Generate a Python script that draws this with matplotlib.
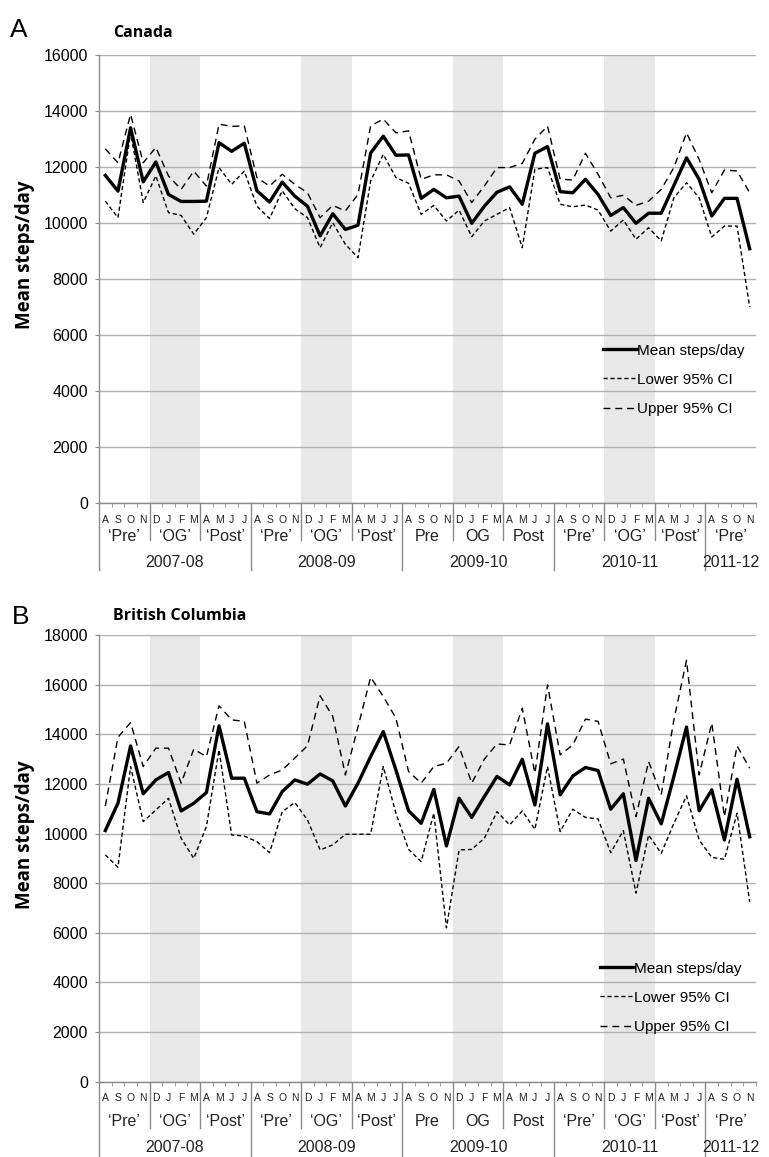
import numpy as np
import matplotlib
matplotlib.use("Agg")
import matplotlib.pyplot as plt
from matplotlib.transforms import offset_copy

plt.rcParams["font.family"] = "Liberation Sans"

# categorias del eje x
years = ["2007-08", "2008-09", "2009-10", "2010-11", "2011-12"]
phases = [["‘Pre’", "‘OG’", "‘Post’"],
          ["‘Pre’", "‘OG’", "‘Post’"],
          ["Pre", "OG", "Post"],
          ["‘Pre’", "‘OG’", "‘Post’"],
          ["‘Pre’"]]
phase_months = [["A", "S", "O", "N"], ["D", "J", "F", "M"], ["A", "M", "J", "J"]]

# Canada (Aug 2007 - Nov 2011)
can_mean = [11700, 11140, 13400, 11470, 12180, 11020, 10770, 10770, 10780, 12870, 12560, 12850,
            11150, 10750, 11460, 10960, 10600, 9540, 10330, 9770, 9920, 12500, 13100, 12420,
            12430, 10880, 11200, 10900, 10960, 9990, 10600, 11100, 11290, 10670, 12490, 12730,
            11120, 11080, 11560, 11020, 10270, 10550, 9990, 10350, 10350, 11340, 12330, 11560,
            10250, 10880, 10880, 9080]
can_lower = [10780, 10190, 13220, 10730, 11680, 10370, 10270, 9600, 10190, 11980, 11380, 11850,
             10600, 10160, 11150, 10510, 10190, 9120, 10010, 9240, 8760, 11500, 12450, 11620,
             11420, 10310, 10630, 10070, 10460, 9510, 10070, 10310, 10550, 9120, 11920, 11980,
             10670, 10580, 10640, 10460, 9710, 10110, 9420, 9830, 9360, 10900, 11440, 10900,
             9500, 9890, 9890, 7000]
can_upper = [12650, 12150, 13880, 12150, 12700, 11680, 11200, 11850, 11320, 13530, 13450, 13470,
             11620, 11320, 11740, 11380, 11080, 10190, 10630, 10430, 11020, 13470, 13710, 13220,
             13290, 11560, 11720, 11720, 11500, 10730, 11320, 11980, 11980, 12130, 12990, 13460,
             11560, 11540, 12490, 11740, 10900, 10990, 10630, 10780, 11200, 11980, 13220, 12270,
             11080, 11890, 11860, 11080]

# British Columbia
bc_mean = [10120, 11220, 13530, 11600, 12160, 12460, 10910, 11220, 11650, 14340, 12230, 12230,
           10880, 10790, 11690, 12160, 11990, 12400, 12120, 11110, 12030, 13100, 14110, 12560,
           10920, 10410, 11780, 9500, 11420, 10650, 11490, 12300, 11960, 12990, 11150, 14420,
           11560, 12320, 12660, 12540, 10980, 11600, 8910, 11420, 10390, 12300, 14290, 10920,
           11760, 9740, 12190, 9870]
bc_lower = [9140, 8640, 12700, 10480, 10950, 11420, 9810, 9000, 10280, 13370, 9940, 9900,
            9670, 9230, 10880, 11250, 10550, 9340, 9540, 9970, 9970, 9970, 12700, 10820,
            9360, 8870, 10820, 6200, 9340, 9360, 9810, 10880, 10350, 10910, 10170, 12700,
            10080, 10980, 10650, 10590, 9230, 10120, 7600, 9940, 9200, 10410, 11520, 9740,
            9040, 8960, 10820, 7250]
bc_upper = [11110, 13880, 14470, 12700, 13440, 13440, 12030, 13400, 13100, 15150, 14580, 14520,
            12030, 12360, 12560, 13040, 13540, 15550, 14720, 12360, 14300, 16300, 15520, 14650,
            12500, 12030, 12700, 12830, 13510, 12030, 13000, 13610, 13570, 15050, 12430, 15990,
            13170, 13570, 14610, 14520, 12810, 13000, 10680, 12900, 11560, 14580, 16980, 12360,
            14450, 10680, 13530, 12630]

# armar etiquetas por mes, fase y temporada
months = []
groups = []
year_spans = []
pos = 0
for yr, phs in zip(years, phases):
    ystart = pos
    for k, ph in enumerate(phs):
        ms = phase_months[k]
        months += ms
        groups.append((pos, pos + len(ms), ph, k))
        pos += len(ms)
    year_spans.append((ystart, pos, yr))

W, H = 769, 1157
fig = plt.figure(figsize=(W / 100, H / 100), dpi=100)

AXIS_GREY = "#8a8a8a"


def add_ax(left, top, right, bottom):
    return fig.add_axes([left / W, 1 - bottom / H, (right - left) / W, (bottom - top) / H])


def draw_panel(ax, mean, lower, upper, ymax, rows, seps, leg_anchor):
    x = np.arange(len(mean))
    axh = ax.get_position().height * H

    for start, end, ph, k in groups:
        if k == 1:
            ax.axvspan(start - 0.5, end - 0.5, color="#e8e8e8", lw=0, zorder=0)

    ax.plot(x, mean, color="black", lw=2.4, label="Mean steps/day", zorder=4)
    ax.plot(x, lower, color="black", lw=1.0, dashes=(3, 2), label="Lower 95% CI", zorder=3)
    ax.plot(x, upper, color="black", lw=1.0, dashes=(5, 3.5), label="Upper 95% CI", zorder=3)

    ax.set_xlim(-0.5, len(mean) - 0.5)
    ax.set_ylim(0, ymax)
    ax.set_yticks(range(0, ymax + 1, 2000))
    ax.yaxis.grid(True, color="#b0b0b0", lw=1.0, zorder=1)
    ax.set_axisbelow(True)

    for s in ["top", "right"]:
        ax.spines[s].set_visible(False)
    for s in ["left", "bottom"]:
        ax.spines[s].set_color(AXIS_GREY)
        ax.spines[s].set_linewidth(1.0)

    ax.set_xticks([])
    ax.set_xticks(np.arange(-0.5, len(mean), 1), minor=True)
    ax.tick_params(axis="x", which="minor", length=3, color=AXIS_GREY, labelbottom=False)
    ax.tick_params(axis="y", length=3, color=AXIS_GREY, labelsize=11.5, pad=5)

    # etiquetas multinivel
    for i, m in enumerate(months):
        tr = offset_copy(ax.get_xaxis_transform(), fig=fig, y=-rows[0], units="dots")
        ax.text(i, 0, m, transform=tr, ha="center", va="center", fontsize=7.5, color="#222222")
    for start, end, ph, k in groups:
        tr = offset_copy(ax.get_xaxis_transform(), fig=fig, y=-rows[1], units="dots")
        ax.text((start + end - 1) / 2, 0, ph, transform=tr, ha="center", va="center",
                fontsize=11.5, color="#222222")
        if k > 0:
            ax.plot([start - 0.5, start - 0.5], [0, -seps[0] / axh], color=AXIS_GREY, lw=1,
                    transform=ax.get_xaxis_transform(), clip_on=False)
    for start, end, yr in year_spans:
        tr = offset_copy(ax.get_xaxis_transform(), fig=fig, y=-rows[2], units="dots")
        ax.text((start + end - 1) / 2, 0, yr, transform=tr, ha="center", va="center",
                fontsize=11.5, color="#222222")
        ax.plot([start - 0.5, start - 0.5], [0, -seps[1] / axh], color=AXIS_GREY, lw=1,
                transform=ax.get_xaxis_transform(), clip_on=False)

    ax.legend(loc="upper left", bbox_to_anchor=leg_anchor, frameon=False, fontsize=11,
              handlelength=2.2, handletextpad=0.0, labelspacing=1.0,
              borderpad=0, borderaxespad=0)


axA = add_ax(99, 55, 756, 503)
axB = add_ax(99, 635, 756, 1081.7)

draw_panel(axA, can_mean, can_lower, can_upper, 16000, (17, 34, 60), (37, 67), (0.767, 0.356))
draw_panel(axB, bc_mean, bc_lower, bc_upper, 18000, (16.5, 40, 66), (46, 80), (0.763, 0.269))

# titulos y letras de panel
fig.text(10 / W, 1 - 30 / H, "A", fontsize=19, ha="left", va="center")
fig.text(113 / W, 1 - 33 / H, "Canada", family="Open Sans", fontweight="bold",
         fontsize=11.5, ha="left", va="center")
fig.text(25 / W, 1 - 255 / H, "Mean steps/day", family="Open Sans", fontweight="bold",
         fontsize=13.5, rotation=90, ha="center", va="center")

fig.text(12 / W, 1 - 617 / H, "B", fontsize=19, ha="left", va="center")
fig.text(113 / W, 1 - 616 / H, "British Columbia", family="Open Sans", fontweight="bold",
         fontsize=11.5, ha="left", va="center")
fig.text(25 / W, 1 - 835 / H, "Mean steps/day", family="Open Sans", fontweight="bold",
         fontsize=13.5, rotation=90, ha="center", va="center")

fig.savefig("out.png", dpi=100)
